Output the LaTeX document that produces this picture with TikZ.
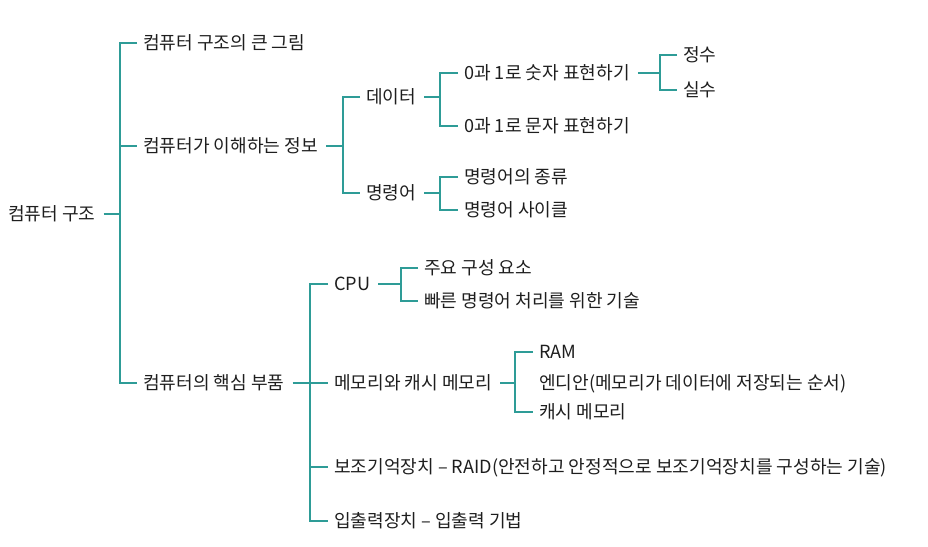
\documentclass[tikz,border=0pt]{standalone}
\usepackage{fontspec}
\setmainfont{Noto Sans CJK KR}
\definecolor{teal1}{HTML}{2E9C97}
\definecolor{ink}{HTML}{1E1E1E}
\begin{document}
\begin{tikzpicture}[x=1pt,y=-1pt,
  lbl/.style={anchor=west, inner sep=0pt, font=\fontsize{18.1}{20}\selectfont, text=ink, text height=13.6pt, text depth=0pt},
  conn/.style={draw=teal1, line width=1.2pt}]
\useasboundingbox (0,0) rectangle (928,546);
% nodes
\node[lbl] (root) at (8,214) {컴퓨터 구조};
\node[lbl] (a1) at (143,43) {컴퓨터 구조의 큰 그림};
\node[lbl] (a2) at (143,146) {컴퓨터가 이해하는 정보};
\node[lbl] (a3) at (143,383) {컴퓨터의 핵심 부품};
\node[lbl] (b1) at (366,97) {데이터};
\node[lbl] (b2) at (366,193) {명령어};
\node[lbl] (c1) at (464,73) {0과 1로 숫자 표현하기};
\node[lbl] (c2) at (464,126) {0과 1로 문자 표현하기};
\node[lbl] (d1) at (683,55) {정수};
\node[lbl] (d2) at (683,90) {실수};
\node[lbl] (c3) at (464,177) {명령어의 종류};
\node[lbl] (c4) at (464,210) {명령어 사이클};
\node[lbl] (e1) at (334,284) {CPU};
\node[lbl] (e2) at (334,383) {메모리와 캐시 메모리};
\node[lbl] (e3) at (334,467) {보조기억장치 – RAID(안전하고 안정적으로 보조기억장치를 구성하는 기술)};
\node[lbl] (e4) at (334,521) {입출력장치 – 입출력 기법};
\node[lbl] (f1) at (424,268) {주요 구성 요소};
\node[lbl] (f2) at (424,301) {빠른 명령어 처리를 위한 기술};
\node[lbl] (g1) at (539,352) {RAM};
\node[lbl] (g2) at (539,383) {엔디안(메모리가 데이터에 저장되는 순서)};
\node[lbl] (g3) at (539,412) {캐시 메모리};
% junction columns
\coordinate (jR) at (120,0);
\coordinate (jA) at (343,0);
\coordinate (jB) at (440,0);
\coordinate (jC) at (660,0);
\coordinate (jE) at (310,0);
\coordinate (jF) at (401,0);
\coordinate (jG) at (515,0);
% root
\draw[conn] ([xshift=8pt]root.east) -- (root.east -| jR);
\draw[conn] ([xshift=-6pt]a1.west) -- (a1.west -| jR) -- (a3.west -| jR) -- ([xshift=-6pt]a3.west);
\draw[conn] (a2.west -| jR) -- ([xshift=-6pt]a2.west);
% 정보
\draw[conn] ([xshift=8pt]a2.east) -- (a2.east -| jA);
\draw[conn] ([xshift=-6pt]b1.west) -- (b1.west -| jA) -- (b2.west -| jA) -- ([xshift=-6pt]b2.west);
% 데이터
\draw[conn] ([xshift=8pt]b1.east) -- (b1.east -| jB);
\draw[conn] ([xshift=-6pt]c1.west) -- (c1.west -| jB) -- (c2.west -| jB) -- ([xshift=-6pt]c2.west);
% 숫자
\draw[conn] ([xshift=8pt]c1.east) -- (c1.east -| jC);
\draw[conn] ([xshift=-6pt]d1.west) -- (d1.west -| jC) -- (d2.west -| jC) -- ([xshift=-6pt]d2.west);
% 명령어
\draw[conn] ([xshift=8pt]b2.east) -- (b2.east -| jB);
\draw[conn] ([xshift=-6pt]c3.west) -- (c3.west -| jB) -- (c4.west -| jB) -- ([xshift=-6pt]c4.west);
% 핵심 부품
\draw[conn] ([xshift=8pt]a3.east) -- (a3.east -| jE);
\draw[conn] ([xshift=-6pt]e1.west) -- (e1.west -| jE) -- (e4.west -| jE) -- ([xshift=-6pt]e4.west);
\draw[conn] (e2.west -| jE) -- ([xshift=-6pt]e2.west);
\draw[conn] (e3.west -| jE) -- ([xshift=-6pt]e3.west);
% CPU
\draw[conn] ([xshift=8pt]e1.east) -- (e1.east -| jF);
\draw[conn] ([xshift=-6pt]f1.west) -- (f1.west -| jF) -- (f2.west -| jF) -- ([xshift=-6pt]f2.west);
% 메모리
\draw[conn] ([xshift=8pt]e2.east) -- (e2.east -| jG);
\draw[conn] ([xshift=-6pt]g1.west) -- (g1.west -| jG) -- (g3.west -| jG) -- ([xshift=-6pt]g3.west);
\end{tikzpicture}
\end{document}
